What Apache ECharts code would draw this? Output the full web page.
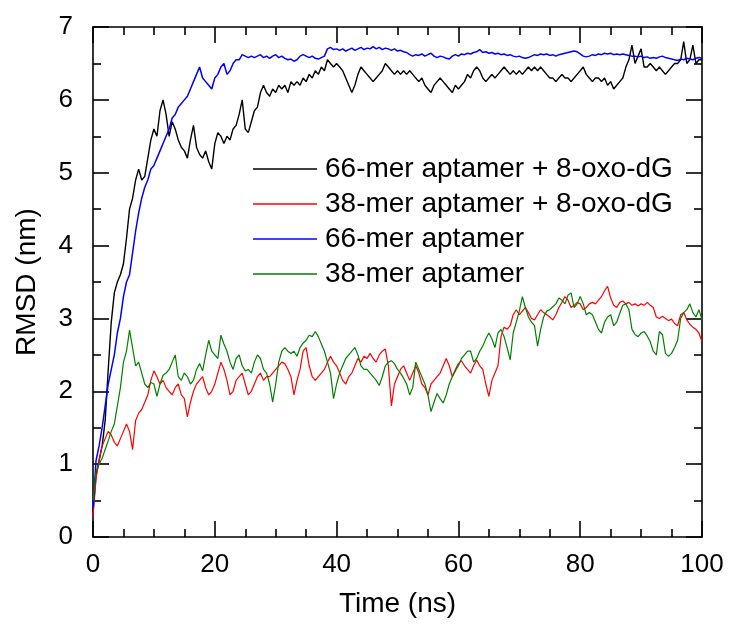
<!DOCTYPE html>
<html>
<head>
<meta charset="utf-8">
<script src="https://cdn.jsdelivr.net/npm/echarts@6/dist/echarts.min.js"></script>
<style>
  html, body { margin: 0; padding: 0; background: #fff; }
  #rmsd-chart { width: 730px; height: 624px; }
</style>
</head>
<body>
<div id="rmsd-chart"></div>
<script>
// RMSD vs time, sampled every 0.5 ns (0 .. 100 ns)
var step = 0.5;

var names = [
  "66-mer aptamer + 8-oxo-dG",
  "38-mer aptamer + 8-oxo-dG",
  "66-mer aptamer",
  "38-mer aptamer"
];

// 66-mer aptamer + 8-oxo-dG (black)
var rmsd66ox = [
  0.35, 0.85, 1.05, 1.25, 1.6, 2.3, 2.95, 3.35, 3.5, 3.6,
  3.75, 4.1, 4.5, 4.65, 4.9, 5.05, 4.9, 4.95, 5.2, 5.45,
  5.6, 5.5, 5.85, 6.0, 5.8, 5.5, 5.7, 5.6, 5.45, 5.35,
  5.3, 5.2, 5.45, 5.65, 5.35, 5.25, 5.2, 5.3, 5.15, 5.05,
  5.4, 5.55, 5.5, 5.4, 5.5, 5.45, 5.6, 5.65, 5.8, 6.0,
  5.6, 5.55, 5.7, 5.85, 5.9, 6.1, 6.2, 6.1, 6.05, 6.15,
  6.1, 6.2, 6.15, 6.2, 6.1, 6.25, 6.2, 6.25, 6.2, 6.3,
  6.25, 6.35, 6.3, 6.4, 6.35, 6.45, 6.4, 6.55, 6.5, 6.45,
  6.5, 6.45, 6.4, 6.3, 6.2, 6.1, 6.2, 6.35, 6.45, 6.4,
  6.35, 6.3, 6.25, 6.3, 6.35, 6.4, 6.5, 6.45, 6.4, 6.35,
  6.4, 6.35, 6.4, 6.35, 6.4, 6.35, 6.3, 6.25, 6.3, 6.2,
  6.15, 6.1, 6.2, 6.25, 6.3, 6.25, 6.2, 6.15, 6.1, 6.2,
  6.15, 6.2, 6.25, 6.35, 6.3, 6.4, 6.45, 6.4, 6.3, 6.25,
  6.3, 6.35, 6.3, 6.35, 6.4, 6.45, 6.4, 6.35, 6.4, 6.35,
  6.4, 6.35, 6.4, 6.45, 6.4, 6.45, 6.4, 6.45, 6.4, 6.35,
  6.3, 6.3, 6.25, 6.3, 6.35, 6.3, 6.3, 6.25, 6.3, 6.35,
  6.4, 6.45, 6.35, 6.3, 6.25, 6.3, 6.3, 6.25, 6.3, 6.2,
  6.25, 6.15, 6.2, 6.25, 6.3, 6.45, 6.55, 6.75, 6.5, 6.6,
  6.7, 6.45, 6.45, 6.5, 6.45, 6.4, 6.45, 6.4, 6.35, 6.4,
  6.45, 6.5, 6.5, 6.55, 6.8, 6.5, 6.55, 6.75, 6.5, 6.55,
  6.55
];

// 38-mer aptamer + 8-oxo-dG (red)
var rmsd38ox = [
  0.28, 0.8, 1.05, 1.25, 1.35, 1.45, 1.4, 1.3, 1.25, 1.35,
  1.45, 1.55, 1.45, 1.2, 1.6, 1.7, 1.75, 1.85, 1.95, 2.15,
  2.28, 2.2, 2.1, 2.15, 2.05, 2.0, 1.95, 2.05, 2.1, 1.95,
  1.9, 1.65, 1.85, 2.0, 2.1, 2.15, 2.2, 2.05, 1.95, 2.0,
  2.1, 2.25, 2.4, 2.3, 2.15, 1.95, 2.0, 2.15, 2.2, 2.25,
  2.1, 1.95, 2.0, 2.1, 2.2, 2.25, 2.15, 2.2, 2.2, 2.25,
  2.3, 2.35, 2.4, 2.38, 2.3, 2.2, 1.95, 2.15, 2.3, 2.55,
  2.6, 2.35, 2.2, 2.15, 2.2, 2.25, 2.3, 2.4, 2.48, 2.4,
  2.35, 2.25, 2.15, 2.1, 2.2, 2.25, 2.35, 2.45, 2.4, 2.48,
  2.45, 2.52, 2.45, 2.4, 2.5, 2.55, 2.58, 2.35, 1.8, 2.1,
  2.2, 2.3, 2.35, 2.25, 2.15, 2.25, 2.35, 2.25, 2.1, 2.05,
  1.95, 2.1, 2.15, 2.2, 2.25, 2.35, 2.45, 2.35, 2.2, 2.3,
  2.38, 2.42, 2.35, 2.3, 2.25, 2.35, 2.43, 2.35, 2.3, 2.1,
  1.93, 2.15, 2.25, 2.35, 2.75, 2.88, 2.85, 2.9, 3.05, 3.12,
  3.05, 3.1, 3.15, 3.08, 3.0, 2.98, 3.05, 3.12, 3.08, 3.05,
  3.02, 2.98, 3.05, 3.15, 3.22, 3.3, 3.25, 3.15, 3.18, 3.22,
  3.2, 3.12, 3.15, 3.2, 3.22, 3.2, 3.25, 3.3, 3.38, 3.44,
  3.28, 3.18, 3.15, 3.22, 3.24, 3.2, 3.22, 3.18, 3.2, 3.17,
  3.2, 3.18, 3.22, 3.18, 3.15, 3.02, 3.0, 3.03, 3.0, 2.97,
  2.99, 2.93, 2.9, 3.05, 3.08, 2.98, 2.92, 2.88, 2.85, 2.8,
  2.68
];

// 66-mer aptamer (blue)
var rmsd66 = [
  0.4, 1.05, 1.25, 1.5, 1.8, 2.1, 2.3, 2.5, 2.8, 3.0,
  3.3, 3.5, 3.6, 3.9, 4.2, 4.45, 4.65, 4.8, 4.9, 5.05,
  5.1, 5.2, 5.3, 5.4, 5.5, 5.6, 5.75, 5.8, 5.9, 5.95,
  6.0, 6.05, 6.15, 6.25, 6.35, 6.45, 6.3, 6.25, 6.2, 6.15,
  6.3, 6.35, 6.45, 6.5, 6.35, 6.4, 6.5, 6.55, 6.55, 6.62,
  6.6, 6.58, 6.6, 6.58, 6.6, 6.62, 6.58, 6.6, 6.57, 6.6,
  6.62, 6.58, 6.6, 6.57, 6.55, 6.56, 6.53, 6.55, 6.6, 6.62,
  6.6, 6.58, 6.6, 6.57, 6.56, 6.58, 6.6, 6.7, 6.72, 6.69,
  6.7, 6.68, 6.7, 6.67, 6.69, 6.71, 6.68, 6.7, 6.72, 6.69,
  6.71, 6.7, 6.73, 6.7, 6.72, 6.69, 6.71, 6.7, 6.68, 6.7,
  6.67, 6.68, 6.66, 6.65, 6.62, 6.6, 6.62, 6.61, 6.63, 6.6,
  6.62, 6.64, 6.6, 6.58, 6.6, 6.59, 6.57, 6.56, 6.6, 6.62,
  6.6, 6.63, 6.62, 6.64, 6.63, 6.65, 6.66, 6.69, 6.65, 6.66,
  6.64, 6.65, 6.63, 6.64, 6.62, 6.63, 6.61, 6.62, 6.6, 6.59,
  6.6, 6.58, 6.57, 6.58, 6.6, 6.62, 6.61, 6.63, 6.62, 6.63,
  6.61, 6.62, 6.6, 6.62, 6.63, 6.64, 6.65, 6.66, 6.67, 6.66,
  6.63, 6.6, 6.59, 6.6, 6.62, 6.61, 6.63, 6.62, 6.64, 6.63,
  6.64, 6.62, 6.63, 6.62, 6.63, 6.62, 6.61, 6.6, 6.6, 6.59,
  6.6, 6.58, 6.59, 6.57, 6.58, 6.57, 6.59, 6.6, 6.58, 6.57,
  6.56, 6.55, 6.54, 6.56, 6.55, 6.57, 6.56, 6.55, 6.57, 6.58,
  6.57
];

// 38-mer aptamer (green)
var rmsd38 = [
  0.5, 0.9, 1.0, 1.08, 1.2, 1.32, 1.45, 1.55, 1.8, 2.05,
  2.4, 2.55, 2.84, 2.6, 2.35, 2.4, 2.25, 2.1, 2.05, 2.12,
  2.1, 1.93, 2.1, 2.22, 2.25, 2.3, 2.4, 2.5, 2.2, 2.15,
  2.25, 2.2, 2.1, 2.15, 2.3, 2.38, 2.28, 2.5, 2.7, 2.55,
  2.5, 2.45, 2.77, 2.65, 2.55, 2.4, 2.3, 2.45, 2.5, 2.35,
  2.28, 2.3, 2.25, 2.4, 2.5, 2.45, 2.3, 2.25, 2.1, 1.85,
  2.1, 2.4, 2.55, 2.6, 2.55, 2.52, 2.55, 2.48, 2.6, 2.66,
  2.7, 2.77, 2.75, 2.82, 2.75, 2.65, 2.55, 2.4, 2.25, 1.9,
  2.1, 2.25, 2.35, 2.45, 2.5, 2.55, 2.6, 2.5, 2.35, 2.3,
  2.3, 2.25, 2.2, 2.15, 2.08, 2.2, 2.35, 2.4, 2.42, 2.38,
  2.3, 2.25, 2.18, 2.1, 1.95, 2.05, 2.4, 2.3, 2.2, 2.1,
  1.95, 1.72, 1.85, 1.97, 1.9, 1.84, 1.95, 2.1, 2.2, 2.28,
  2.35, 2.45, 2.5, 2.55, 2.55, 2.4, 2.45, 2.55, 2.62, 2.72,
  2.8, 2.72, 2.6, 2.8, 2.85, 2.75, 2.6, 2.43, 2.8, 2.95,
  3.1, 3.3, 3.15, 3.02, 2.95, 2.9, 2.62, 2.85, 3.02, 3.1,
  3.12, 3.16, 3.2, 3.28, 3.25, 3.2, 3.32, 3.35, 3.15, 3.2,
  3.3, 3.2, 3.05, 3.08, 3.05, 2.95, 2.85, 2.8, 2.95, 3.02,
  3.05, 2.9, 2.95, 3.07, 3.18, 3.2, 3.12, 2.85, 2.78, 2.75,
  2.8, 2.82, 2.76, 2.68, 2.55, 2.5, 2.82, 2.78, 2.52, 2.48,
  2.52, 2.6, 2.7, 3.0, 3.08, 3.12, 3.2, 3.08, 3.02, 3.12,
  2.98
];

var colors = ["#000000", "#ff0000", "#0000ff", "#008000"];
var widths = [1.4, 1.2, 1.5, 1.2];
var seriesValues = [rmsd66ox, rmsd38ox, rmsd66, rmsd38];

function toPairs(arr) {
  var out = [];
  for (var i = 0; i < arr.length; i++) {
    out.push([i * step, arr[i]]);
  }
  return out;
}

var fontFam = 'Arial, "Liberation Sans", sans-serif';

function axisBase(showLabels) {
  return {
    axisLine: { show: true, onZero: false, lineStyle: { color: "#000", width: 1.6 } },
    axisTick: { show: true, inside: true, length: 16, lineStyle: { color: "#000", width: 1.6 } },
    minorTick: { show: true, length: 8, lineStyle: { color: "#000", width: 1.6 } },
    splitLine: { show: false },
    axisLabel: {
      show: showLabels,
      color: "#000",
      fontSize: 26,
      fontFamily: fontFam,
      margin: 15
    }
  };
}

var xBottom = axisBase(true);
xBottom.type = "value";
xBottom.min = 0;
xBottom.max = 100;
xBottom.interval = 20;
xBottom.position = "bottom";
xBottom.minorTick.splitNumber = 4;
xBottom.name = "Time (ns)";
xBottom.nameLocation = "middle";
xBottom.nameGap = 53;
xBottom.nameTextStyle = { color: "#000", fontSize: 28, fontFamily: fontFam };

var xTop = axisBase(false);
xTop.type = "value";
xTop.min = 0;
xTop.max = 100;
xTop.interval = 20;
xTop.position = "top";
xTop.minorTick.splitNumber = 4;

var yLeft = axisBase(true);
yLeft.type = "value";
yLeft.min = 0;
yLeft.max = 7;
yLeft.interval = 1;
yLeft.position = "left";
yLeft.minorTick.splitNumber = 2;
yLeft.axisLabel.margin = 20;
yLeft.name = "RMSD (nm)";
yLeft.nameLocation = "middle";
yLeft.nameGap = 52;
yLeft.nameTextStyle = { color: "#000", fontSize: 28, fontFamily: fontFam };

var yRight = axisBase(false);
yRight.type = "value";
yRight.min = 0;
yRight.max = 7;
yRight.interval = 1;
yRight.position = "right";
yRight.minorTick.splitNumber = 2;

var series = [];
for (var k = 0; k < names.length; k++) {
  series.push({
    name: names[k],
    type: "line",
    xAxisIndex: 0,
    yAxisIndex: 0,
    showSymbol: false,
    symbol: "none",
    data: toPairs(seriesValues[k]),
    lineStyle: { color: colors[k], width: widths[k] },
    itemStyle: { color: colors[k] },
    z: 2
  });
}

var option = {
  backgroundColor: "#ffffff",
  animation: false,
  grid: { left: 93, right: 28, top: 27, bottom: 87, containLabel: false },
  xAxis: [xBottom, xTop],
  yAxis: [yLeft, yRight],
  legend: {
    orient: "vertical",
    left: 248,
    top: 149,
    itemWidth: 64,
    itemHeight: 1.5,
    itemGap: 5,
    icon: "rect",
    data: names,
    textStyle: {
      color: "#000",
      fontSize: 28,
      fontFamily: fontFam,
      lineHeight: 30,
      padding: [0, 0, 0, 3]
    }
  },
  series: series
};

var myChart = echarts.init(document.getElementById("rmsd-chart"));
myChart.setOption(option);
</script>
</body>
</html>
